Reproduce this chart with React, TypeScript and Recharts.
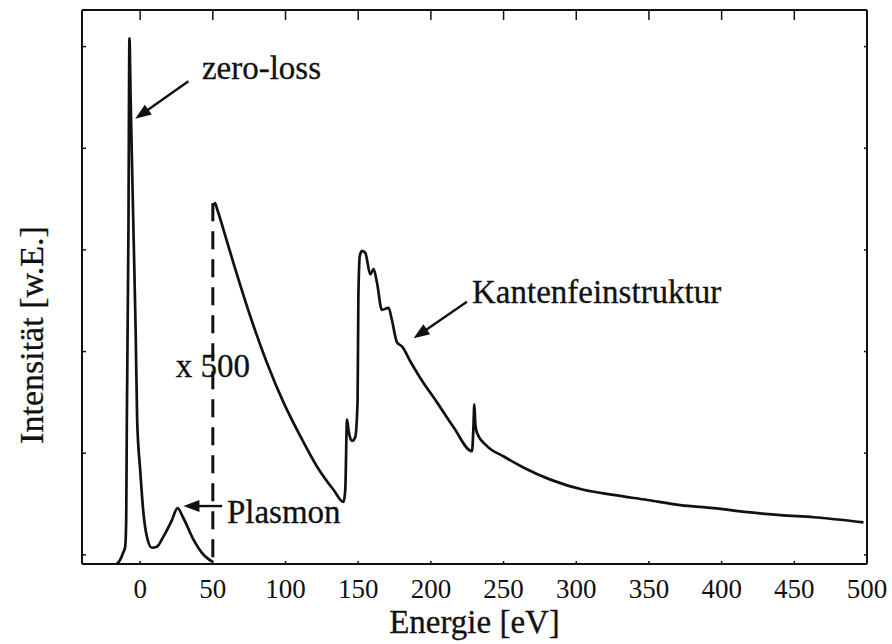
import React from "react";
import { LineChart, Line, XAxis, YAxis, ReferenceLine, ReferenceDot, Label } from "recharts";

const SERIF = "Liberation Serif, serif";
const INK = "#111";

// zero-loss peak and plasmon, as recorded
const lossEnergy = [
  -16, -13.8, -11.7, -10.3, -9.6, -9.15, -8.05, -7.36, -6.54, -4.61, -3.1, -2.06, 0, 2.27, 4.61,
  8.05, 11.5, 16, 21.8, 25.7, 29.8, 36.7, 42.5, 46.8, 50,
];
const lossIntensity = [
  -0.089, -0.05, 0.02, 0.08, 0.34, 1.33, 3.2, 5.08, 4.48, 3.2, 2.21, 1.33, 0.84, 0.41, 0.18,
  0.07, 0.08, 0.18, 0.34, 0.46, 0.36, 0.15, 0.02, -0.04, -0.07,
];

// core-loss part, magnified x500
const edgeEnergy = [
  50.4, 51.5, 53, 57.3, 64.2, 75.7, 87.2, 98.6, 110.1, 121.6, 133, 139.9, 141.1, 142.3, 143.5,
  145.7, 148, 149.6, 150.1, 151.1, 152.6, 154.9, 158.3, 160.6, 162.9, 166.3, 170.9, 173.2, 176.7,
  180.1, 186, 192.7, 204.2, 215.4, 228.3, 229.2, 229.9, 230.6, 231.7, 238.6, 249.8, 263.6, 282.2,
  304.9, 325.5, 348.9, 371.6, 394.4, 417.8, 440.5, 463.2, 497.6,
];
const edgeIntensity = [
  3.44, 3.46, 3.4, 3.2, 2.87, 2.35, 1.89, 1.5, 1.17, 0.87, 0.64, 0.52, 0.64, 1.33, 1.21,
  1.12, 1.16, 1.53, 2.51, 2.94, 2.99, 2.97, 2.76, 2.81, 2.68, 2.41, 2.43, 2.31, 2.09,
  2.05, 1.9, 1.74, 1.5, 1.26, 1.02, 1.23, 1.48, 1.28, 1.2, 1.07, 0.97, 0.86, 0.74,
  0.64, 0.59, 0.54, 0.49, 0.46, 0.42, 0.39, 0.37, 0.32,
];

const energyTicks = [0, 50, 100, 150, 200, 250, 300, 350, 400, 450, 500];
const intensityTicks = [0, 1, 2, 3, 4, 5];

const arrows = [
  { from: [33.2, 4.66], to: [-3.4, 4.29] },
  { from: [56.4, 0.48], to: [29.8, 0.48] },
  { from: [224.8, 2.49], to: [188.1, 2.13] },
];

const notes = [
  { text: "zero-loss", at: [42.5, 4.685], anchor: "start" },
  { text: "Plasmon", at: [59.7, 0.318], anchor: "start" },
  { text: "Kantenfeinstruktur", at: [228.3, 2.477], anchor: "start" },
  { text: "x 500", at: [50, 1.752], anchor: "middle" },
];

const lossData = lossEnergy.map((e, i) => ({ e, v: lossIntensity[i] }));
const edgeData = edgeEnergy.map((e, i) => ({ e, v: edgeIntensity[i] }));

const ArrowShape = (p: any) => {
  const { x1, y1, x2, y2 } = p;
  const dx = x2 - x1;
  const dy = y2 - y1;
  const len = Math.hypot(dx, dy) || 1;
  const ux = dx / len;
  const uy = dy / len;
  const head = 16;
  const half = 6;
  const bx = x2 - ux * head;
  const by = y2 - uy * head;
  return (
    <g>
      <line x1={x1} y1={y1} x2={bx + ux * 2} y2={by + uy * 2} stroke={INK} strokeWidth={2.4} />
      <polygon
        points={`${x2},${y2} ${bx - uy * half},${by + ux * half} ${bx + uy * half},${by - ux * half}`}
        fill={INK}
      />
    </g>
  );
};

const noteShape = (text: string, anchor: string) => (p: any) => (
  <text
    x={p.cx}
    y={p.cy}
    textAnchor={anchor}
    fontFamily={SERIF}
    fontSize={33}
    fill={INK}
    stroke={INK}
    strokeWidth={0.3}
  >
    {text}
  </text>
);

const blank = () => "";

export default function App() {
  return (
    <div style={{ position: "absolute", left: 0, top: 0, background: "#fff" }}>
      <LineChart width={892} height={644} margin={{ top: 0, right: 0, bottom: 10, left: 0 }}>
        <XAxis
          dataKey="e"
          type="number"
          domain={[-40, 500]}
          ticks={energyTicks}
          interval={0}
          allowDataOverflow
          height={70}
          axisLine={{ stroke: INK, strokeWidth: 2 }}
          tickLine={{ stroke: INK, strokeWidth: 1.5 }}
          tickSize={-3}
          tickMargin={18}
          tick={{ fill: INK, fontSize: 27, fontFamily: SERIF }}
        >
          <Label
            content={(props: any) => {
              const vb = props.viewBox;
              return (
                <text
                  x={vb.x + vb.width / 2}
                  y={vb.y + 69}
                  textAnchor="middle"
                  fontFamily={SERIF}
                  fontSize={33}
                  fill={INK}
                  stroke={INK}
                  strokeWidth={0.3}
                >
                  Energie [eV]
                </text>
              );
            }}
          />
        </XAxis>
        <XAxis
          xAxisId="top"
          orientation="top"
          dataKey="e"
          type="number"
          domain={[-40, 500]}
          ticks={energyTicks}
          interval={0}
          allowDataOverflow
          height={10}
          axisLine={{ stroke: INK, strokeWidth: 2 }}
          tickLine={{ stroke: INK, strokeWidth: 1.5 }}
          tickSize={-10}
          tickFormatter={blank}
        />
        <YAxis
          type="number"
          domain={[-0.09, 5.36]}
          ticks={intensityTicks}
          interval={0}
          allowDataOverflow
          width={82}
          axisLine={{ stroke: INK, strokeWidth: 2 }}
          tickLine={{ stroke: INK, strokeWidth: 1.5 }}
          tickSize={-4}
          tickFormatter={blank}
        >
          <Label
            content={(props: any) => {
              const vb = props.viewBox;
              const cx = vb.x + 43;
              const cy = vb.y + vb.height / 2 + 48;
              return (
                <text
                  x={cx}
                  y={cy}
                  transform={`rotate(-90 ${cx} ${cy})`}
                  textAnchor="middle"
                  fontFamily={SERIF}
                  fontSize={34}
                  fill={INK}
                  stroke={INK}
                  strokeWidth={0.3}
                >
                  Intensität [w.E.]
                </text>
              );
            }}
          />
        </YAxis>
        <YAxis
          yAxisId="right"
          orientation="right"
          type="number"
          domain={[-0.09, 5.36]}
          ticks={intensityTicks}
          interval={0}
          allowDataOverflow
          width={25}
          axisLine={{ stroke: INK, strokeWidth: 2 }}
          tickLine={{ stroke: INK, strokeWidth: 1.5 }}
          tickSize={-3}
          tickFormatter={blank}
        />

        <ReferenceLine
          segment={[{ x: 50, y: 3.46 }, { x: 50, y: -0.09 }]}
          stroke={INK}
          strokeWidth={3}
          strokeDasharray="18 10"
          ifOverflow="visible"
        />

        <Line
          data={lossData}
          dataKey="v"
          type="monotone"
          stroke={INK}
          strokeWidth={2.7}
          dot={false}
          activeDot={false}
          isAnimationActive={false}
        />
        <Line
          data={edgeData}
          dataKey="v"
          type="monotone"
          stroke={INK}
          strokeWidth={2.7}
          dot={false}
          activeDot={false}
          isAnimationActive={false}
        />

        {arrows.map((a, i) => (
          <ReferenceLine
            key={`arrow-${i}`}
            segment={[{ x: a.from[0], y: a.from[1] }, { x: a.to[0], y: a.to[1] }]}
            ifOverflow="visible"
            shape={ArrowShape}
          />
        ))}
        {notes.map((n, i) => (
          <ReferenceDot
            key={`note-${i}`}
            x={n.at[0]}
            y={n.at[1]}
            r={0}
            ifOverflow="visible"
            shape={noteShape(n.text, n.anchor)}
          />
        ))}
      </LineChart>
    </div>
  );
}
